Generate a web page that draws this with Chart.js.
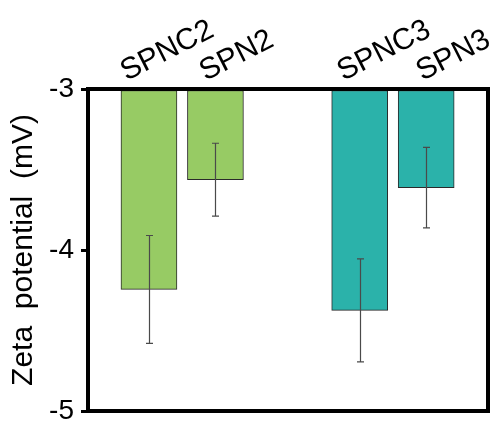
<!DOCTYPE html>
<html>
<head>
<meta charset="utf-8">
<script src="https://cdn.jsdelivr.net/npm/chart.js@4.4.1/dist/chart.umd.min.js"></script>
<style>
  html, body { margin: 0; padding: 0; background: #fff; }
  #wrap { width: 493px; height: 423px; }
</style>
</head>
<body>
<div id="wrap"><canvas id="chart"></canvas></div>
<script>
// Zeta potential of the four samples (mV)
const samples = ['SPNC2', 'SPN2', 'SPNC3', 'SPN3'];
const zeta = [-4.245, -3.563, -4.375, -3.613];
const zetaErr = [0.335, 0.226, 0.32, 0.25];
const yTicks = [-3, -4, -5];

// two pairs of bars, a wider gap between the pairs
const pairGap = 2.17;
const xPos = samples.map((s, i) => Math.floor(i / 2) * (1 + pairGap) + (i % 2));

const barColors = ['#97cb64', '#97cb64', '#2bb2aa', '#2bb2aa'];
const FONT = "'Liberation Sans', Arial, sans-serif";

// sample names above the frame, tilted; each sits on the same baseline start height
const topLabels = {
    id: 'topLabels',
    afterDraw(chart) {
        const { ctx, scales: { x } } = chart;
        const ang = 27 * Math.PI / 180;
        ctx.save();
        ctx.fillStyle = '#000';
        ctx.font = '30px ' + FONT;
        ctx.textAlign = 'left';
        ctx.textBaseline = 'alphabetic';
        samples.forEach((name, i) => {
            const w = ctx.measureText(name).width;
            const mid = x.getPixelForValue(xPos[i]) + 22 + 3 * i;
            ctx.save();
            ctx.translate(mid - w / 2 * Math.cos(ang), 81);
            ctx.rotate(-ang);
            ctx.fillText(name, 0, 0);
            ctx.restore();
        });
        ctx.restore();
    }
};

// error bars drawn from the data through the scales
const errorBars = {
    id: 'errorBars',
    afterDatasetsDraw(chart) {
        const { ctx, scales: { x, y } } = chart;
        ctx.save();
        ctx.strokeStyle = '#4a4a4a';
        ctx.lineWidth = 1.2;
        zeta.forEach((v, i) => {
            const px = Math.round(x.getPixelForValue(xPos[i])) + 0.5;
            const top = y.getPixelForValue(v + zetaErr[i]);
            const bot = y.getPixelForValue(v - zetaErr[i]);
            ctx.beginPath();
            ctx.moveTo(px, top);
            ctx.lineTo(px, bot);
            ctx.moveTo(px - 3.5, top);
            ctx.lineTo(px + 3.5, top);
            ctx.moveTo(px - 3.5, bot);
            ctx.lineTo(px + 3.5, bot);
            ctx.stroke();
        });
        ctx.restore();
    }
};

// heavy frame round the plot area
const frame = {
    id: 'frame',
    afterDraw(chart) {
        const { ctx, chartArea: a } = chart;
        ctx.save();
        ctx.strokeStyle = '#000';
        ctx.lineWidth = 4;
        ctx.strokeRect(a.left, a.top, a.right - a.left, a.bottom - a.top);
        ctx.restore();
    }
};

new Chart(document.getElementById('chart'), {
    type: 'bar',
    data: {
        datasets: [{
            data: zeta.map((v, i) => ({ x: xPos[i], y: v })),
            base: -3,
            backgroundColor: barColors,
            borderColor: '#2a2a2a',
            borderWidth: 1,
            borderSkipped: false,
            barThickness: 56
        }]
    },
    options: {
        responsive: true,
        maintainAspectRatio: false,
        animation: false,
        layout: { padding: { left: 0, top: 0, right: 5, bottom: 12 } },
        plugins: {
            legend: { display: false },
            tooltip: { enabled: false }
        },
        scales: {
            x: {
                type: 'linear',
                position: 'top',
                offset: false,
                min: -0.917,
                max: 5.1,
                grid: { display: false },
                border: { display: false },
                ticks: { display: false },
                afterFit(axis) {
                    axis.height = 89;
                    axis.paddingLeft = 0;
                    axis.paddingRight = 0;
                }
            },
            y: {
                min: -5,
                max: -3,
                afterBuildTicks(axis) {
                    axis.ticks = yTicks.map(v => ({ value: v }));
                },
                afterFit(axis) {
                    axis.width = 88;
                    axis.paddingTop = 0;
                    axis.paddingBottom = 0;
                },
                grid: {
                    drawOnChartArea: false,
                    drawTicks: true,
                    tickLength: 7,
                    lineWidth: 3,
                    color: '#000'
                },
                border: { display: false },
                ticks: {
                    padding: 7,
                    color: '#000',
                    font: { family: FONT, size: 28 }
                },
                title: {
                    display: true,
                    text: 'Zeta  potential  (mV)',
                    color: '#000',
                    padding: { top: 6, bottom: 0 },
                    font: { family: FONT, size: 30 }
                }
            }
        }
    },
    plugins: [errorBars, frame, topLabels]
});
</script>
</body>
</html>
